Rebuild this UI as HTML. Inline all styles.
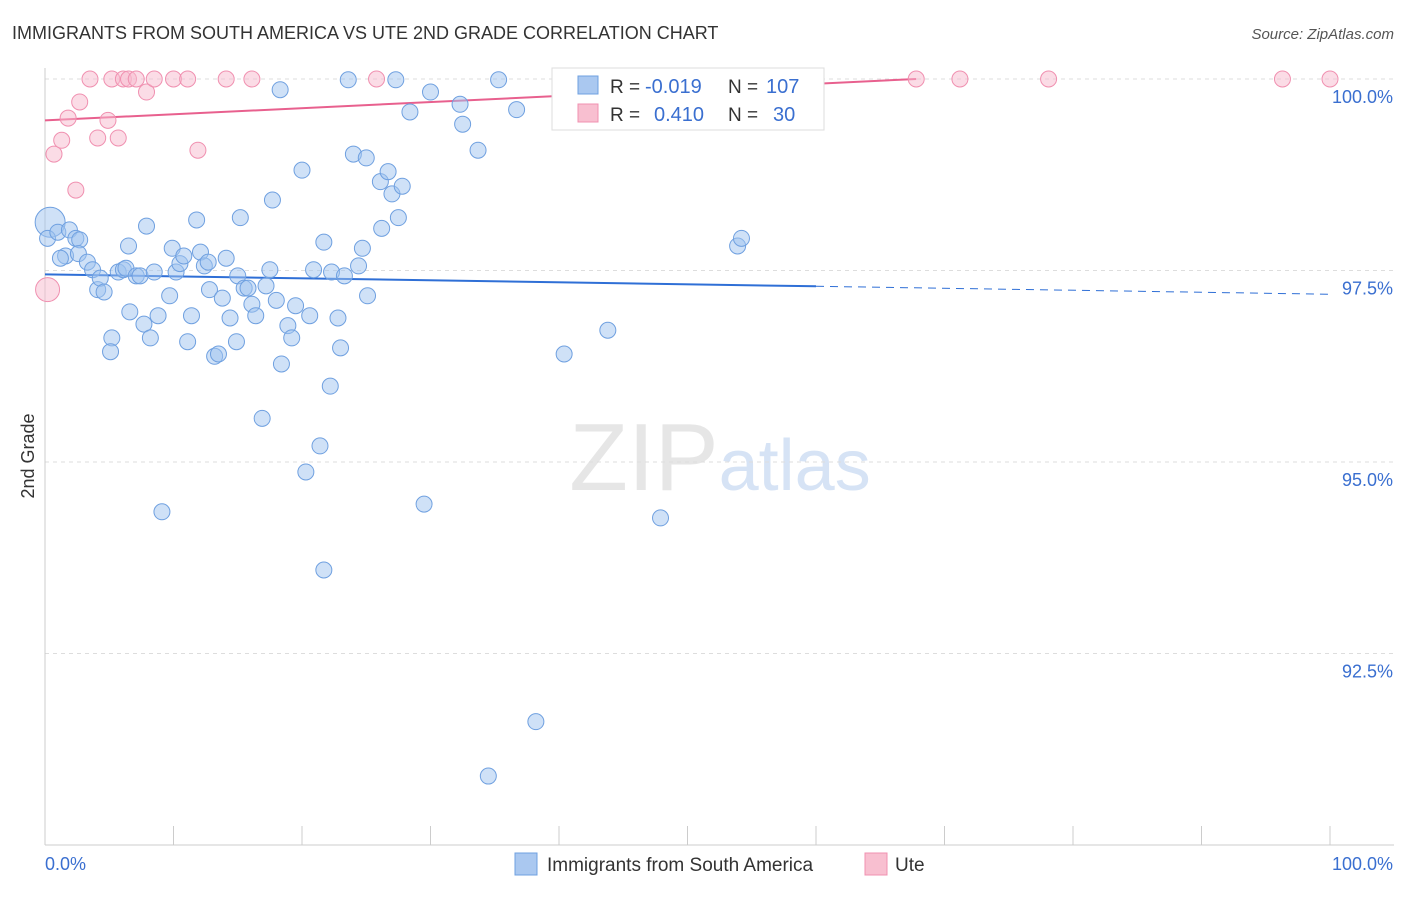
<!DOCTYPE html>
<html><head><meta charset="utf-8"><style>
body{margin:0;background:#fff;font-family:"Liberation Sans",sans-serif}
svg text{font-family:"Liberation Sans",sans-serif}
</style></head><body>
<svg id="chart" width="1406" height="892" xmlns="http://www.w3.org/2000/svg">
<text x="12" y="39" font-size="18" fill="#333">IMMIGRANTS FROM SOUTH AMERICA VS UTE 2ND GRADE CORRELATION CHART</text>
<text x="1394" y="39" font-size="15" fill="#555" text-anchor="end" font-style="italic">Source: ZipAtlas.com</text>
<text x="720" y="490" font-size="96" text-anchor="middle" fill="#e6e6e6" font-family="Liberation Serif">ZIP<tspan fill="#d6e3f5" font-family="Liberation Sans" font-size="72">atlas</tspan></text>
<text transform="translate(34,456) rotate(-90)" font-size="18" fill="#333" text-anchor="middle">2nd Grade</text>
<g id="grid"></g><g id="axes"></g><g id="trends"></g><g id="points"></g>
<g>
<rect x="552" y="68" width="272" height="62" fill="#fff" stroke="#ddd"/>
<rect x="578" y="76" width="20" height="18" fill="#aac8f0" stroke="#6fa0e0"/>
<rect x="578" y="104" width="20" height="18" fill="#f8bfd0" stroke="#f090b0"/>
<text x="610" y="93" font-size="19" fill="#333">R =</text>
<text x="645" y="93" font-size="20" fill="#3a6fd0">-0.019</text>
<text x="728" y="93" font-size="19" fill="#333">N =</text>
<text x="766" y="93" font-size="20" fill="#3a6fd0">107</text>
<text x="610" y="121" font-size="19" fill="#333">R =</text>
<text x="654" y="121" font-size="20" fill="#3a6fd0">0.410</text>
<text x="728" y="121" font-size="19" fill="#333">N =</text>
<text x="773" y="121" font-size="20" fill="#3a6fd0">30</text>
</g>
<g>
<rect x="515" y="853" width="22" height="22" fill="#aac8f0" stroke="#6fa0e0"/>
<text x="547" y="871" font-size="19" fill="#333">Immigrants from South America</text>
<rect x="865" y="853" width="22" height="22" fill="#f8bfd0" stroke="#f090b0"/>
<text x="895" y="871" font-size="19" fill="#333">Ute</text>
</g>
</svg>
<script>
const yTicks=[100,97.5,95,92.5];
const yTickLabels=["100.0%","97.5%","95.0%","92.5%"];
const xTicks=[0,10,20,30,40,50,60,70,80,90,100];
const blueX=[0.4,0.2,1.0,1.6,1.2,1.9,2.4,2.7,2.6,3.3,3.7,4.1,4.3,4.6,5.2,5.1,5.7,6.1,6.3,6.5,6.6,7.1,7.4,7.7,7.9,8.2,8.5,8.8,9.1,9.7,9.9,10.2,10.5,10.8,11.1,11.4,11.8,12.1,12.4,12.7,12.8,13.2,13.5,13.8,14.1,14.4,14.9,15.0,15.2,15.5,15.8,16.1,16.4,16.9,17.2,17.5,17.7,18.0,18.3,18.4,18.9,19.2,19.5,20.0,20.3,20.6,20.9,21.4,21.7,21.7,22.2,22.3,22.8,23.0,23.3,23.6,24.0,24.4,24.7,25.0,25.1,26.1,26.2,26.7,27.0,27.3,27.5,27.8,28.4,29.5,30.0,32.3,32.5,33.7,34.5,35.3,36.7,38.2,40.4,43.8,47.9,53.9,54.2];
const blueY=[98.13,97.92,98.00,97.69,97.66,98.03,97.92,97.90,97.72,97.61,97.51,97.25,97.40,97.22,96.62,96.44,97.48,97.51,97.53,97.82,96.96,97.43,97.43,96.80,98.08,96.62,97.48,96.91,94.35,97.17,97.79,97.48,97.59,97.69,96.57,96.91,98.16,97.74,97.56,97.61,97.25,96.38,96.41,97.14,97.66,96.88,96.57,97.43,98.19,97.27,97.27,97.06,96.91,95.57,97.30,97.51,98.42,97.11,99.86,96.28,96.78,96.62,97.04,98.81,94.87,96.91,97.51,95.21,97.87,93.59,95.99,97.48,96.88,96.49,97.43,99.99,99.02,97.56,97.79,98.97,97.17,98.66,98.05,98.79,98.50,99.99,98.19,98.60,99.57,94.45,99.83,99.67,99.41,99.07,90.90,99.99,99.60,91.61,96.41,96.72,94.27,97.82,97.92];
const pinkX=[0.2,0.7,1.3,1.8,2.4,2.7,3.5,4.1,4.9,5.2,5.7,6.1,6.5,7.1,7.9,8.5,10.0,11.1,11.9,14.1,16.1,25.8,44.3,52.4,67.8,71.2,78.1,96.3,100];
const pinkY=[97.25,99.02,99.20,99.49,98.55,99.70,100,99.23,99.46,100,99.23,100,100,100,99.83,100,100,100,99.07,100,100,100,100,100,100,100,100,100,100];
const blueTrend=[97.45,97.19];
const pinkTrend=[99.46,100.0];
const pinkTrendEnd=67.8;
const X=v=>45+v*12.85, Y=v=>79+(100-v)*76.6;
const NS="http://www.w3.org/2000/svg";
function mk(p,t,a){const e=document.createElementNS(NS,t);for(const k in a)e.setAttribute(k,a[k]);p.appendChild(e);return e;}
const grid=document.getElementById('grid'),axes=document.getElementById('axes'),tr=document.getElementById('trends'),pts=document.getElementById('points');
yTicks.forEach((v,i)=>{
 const l=mk(grid,'line',{x1:45,x2:1394,y1:Y(v),y2:Y(v),stroke:'#ddd','stroke-dasharray':'4,4'});
 
 
 const t=mk(axes,'text',{x:1393,y:Y(v)+24,'font-size':18,fill:'#3a6fd0','text-anchor':'end'});t.textContent=yTickLabels[i];
 
 
});
const ax=mk(axes,'line',{x1:45,x2:1394,y1:845,y2:845,stroke:'#ccc'});


const ay=mk(axes,'line',{x1:45,x2:45,y1:68,y2:845,stroke:'#ccc'});


xTicks.forEach(v=>{const l=mk(axes,'line',{x1:X(v),x2:X(v),y1:826,y2:845,stroke:'#ccc'});
 
 });
const t0=mk(axes,'text',{x:45,y:870,'font-size':18,fill:'#3a6fd0'});t0.textContent='0.0%';


const t1=mk(axes,'text',{x:1393,y:870,'font-size':18,fill:'#3a6fd0','text-anchor':'end'});t1.textContent='100.0%';


blueX.forEach((x,i)=>{const big=i<1;const c=mk(pts,'circle',{cx:X(x),cy:Y(blueY[i]),r:big?15:8,fill:'rgba(160,195,240,0.5)',stroke:'#6fa0e0','stroke-width':1});
 
 });
pinkX.forEach((x,i)=>{const big=i<1;const c=mk(pts,'circle',{cx:X(x),cy:Y(pinkY[i]),r:big?12:8,fill:'rgba(248,185,205,0.5)',stroke:'#f090b0','stroke-width':1});
 
 });
const bAt=x=>blueTrend[0]+(blueTrend[1]-blueTrend[0])*x/100;
const b1=mk(tr,'line',{x1:X(0),y1:Y(bAt(0)),x2:X(60),y2:Y(bAt(60)),stroke:'#2f6fd6','stroke-width':2});


const b2=mk(tr,'line',{x1:X(60),y1:Y(bAt(60)),x2:X(100),y2:Y(bAt(100)),stroke:'#2f6fd6','stroke-width':1,'stroke-dasharray':'8,6'});


const p1=mk(tr,'line',{x1:X(0),y1:Y(pinkTrend[0]),x2:X(pinkTrendEnd),y2:Y(pinkTrend[1]),stroke:'#e8608e','stroke-width':2});


</script>
</body></html>
